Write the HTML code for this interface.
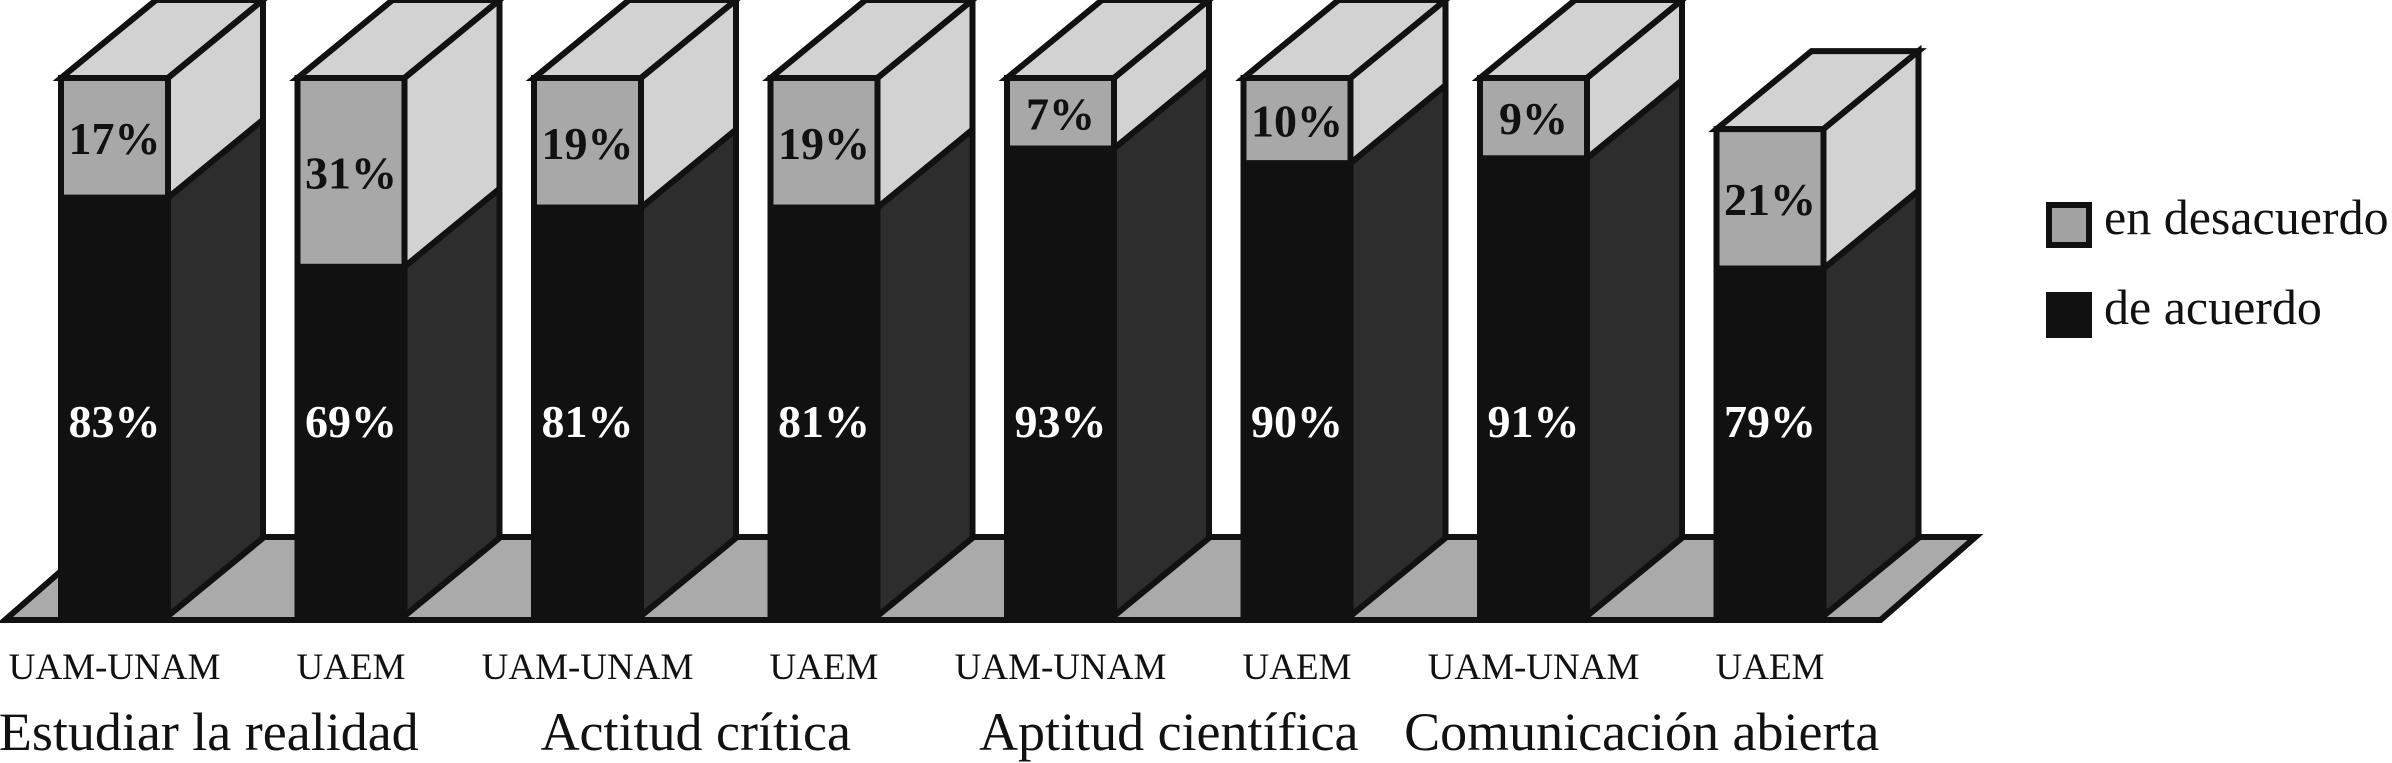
<!DOCTYPE html>
<html><head><meta charset="utf-8">
<style>
html,body{margin:0;padding:0;background:#fff;}
svg{display:block;}
text{font-family:"Liberation Serif",serif;}
</style></head>
<body>
<svg id="chart" width="2392" height="763" viewBox="0 0 2392 763" xmlns="http://www.w3.org/2000/svg">
<g id="floor"></g>
<g id="bars"></g>
<g id="labels"></g>
<g id="legend">
  <rect x="2049" y="205" width="40" height="40" fill="#a3a3a3" stroke="#111" stroke-width="6"/>
  <text x="2104" y="234" font-size="50" fill="#111">en desacuerdo</text>
  <rect x="2046" y="292" width="46" height="46" fill="#111"/>
  <text x="2104" y="324" font-size="50" fill="#111">de acuerdo</text>
</g>
</svg>
<script>
const institutions = ["UAM-UNAM","UAEM","UAM-UNAM","UAEM","UAM-UNAM","UAEM","UAM-UNAM","UAEM"];
const groups = ["Estudiar la realidad","Actitud crítica","Aptitud científica","Comunicación abierta"];
const deAcuerdo = [83,69,81,81,93,90,91,79];
const enDesacuerdo = [17,31,19,19,7,10,9,21];
const barTotal = [100,100,100,100,100,100,100,90.5];

const NS="http://www.w3.org/2000/svg";
const X0=61, STEP=236.5, FW=107, DX=95, DY=78, BOTTOM=616;
function xLeft(i){return X0+i*STEP;}
function yTop(t){return BOTTOM-t*5.38;}
function yBoundary(top,g){return top+36+g*4.93;}
function poly(parent,pts,fill,name){
  const p=document.createElementNS(NS,"polygon");
  p.setAttribute("points",pts.map(a=>a.join(",")).join(" "));
  p.setAttribute("fill",fill);p.setAttribute("stroke","#111");p.setAttribute("stroke-width","6");
  p.setAttribute("stroke-linejoin","miter");
  
  
  parent.appendChild(p);return p;
}
function txt(parent,x,y,s,size,fill,name,weight){
  const t=document.createElementNS(NS,"text");
  t.setAttribute("x",x);t.setAttribute("y",y);t.setAttribute("font-size",size);
  t.setAttribute("fill",fill);t.setAttribute("text-anchor","middle");
  if(weight)t.setAttribute("font-weight",weight);
  t.textContent=s;
  
  
  parent.appendChild(t);
}
const floor=document.getElementById("floor");
const n=deAcuerdo.length;
const fx0=5, fx1=xLeft(n-1)+FW+57;
poly(floor,[[fx0,620],[fx1,620],[fx1+DX,620-83],[fx0+DX,620-83]],"#aaaaaa","floor");

const bars=document.getElementById("bars"), labels=document.getElementById("labels");
for(let i=0;i<n;i++){
  const x0=xLeft(i), x1=x0+FW, top=yTop(barTotal[i]), yb=yBoundary(top,enDesacuerdo[i]);
  poly(bars,[[x0,top],[x1,top],[x1+DX,top-DY],[x0+DX,top-DY]],"#d2d2d2","bar-top-"+i);
  poly(bars,[[x1,top],[x1+DX,top-DY],[x1+DX,yb-DY],[x1,yb]],"#d2d2d2","bar-side-desacuerdo-"+i);
  poly(bars,[[x1,yb],[x1+DX,yb-DY],[x1+DX,BOTTOM-DY],[x1,BOTTOM]],"#2d2d2d","bar-side-acuerdo-"+i);
  poly(bars,[[x0,top],[x1,top],[x1,yb],[x0,yb]],"#a8a8a8","bar-desacuerdo-"+i);
  poly(bars,[[x0,yb],[x1,yb],[x1,BOTTOM],[x0,BOTTOM]],"#111111","bar-acuerdo-"+i);
  const cx=x0+FW/2;
  txt(labels,cx,(top+yb)/2+16,enDesacuerdo[i]+"%",46,"#111","value-desacuerdo-"+i,"bold");
  txt(labels,cx,437,deAcuerdo[i]+"%",46,"#fff","value-acuerdo-"+i,"bold");
  txt(labels,cx,679,institutions[i],37,"#111","institution-label-"+i);
}
for(let g=0;g<groups.length;g++){
  const cx=(xLeft(2*g)+xLeft(2*g+1)+FW)/2-(g===0?24:10);
  txt(labels,cx,750,groups[g],54,"#111","group-label-"+g);
}
</script>
</body></html>
